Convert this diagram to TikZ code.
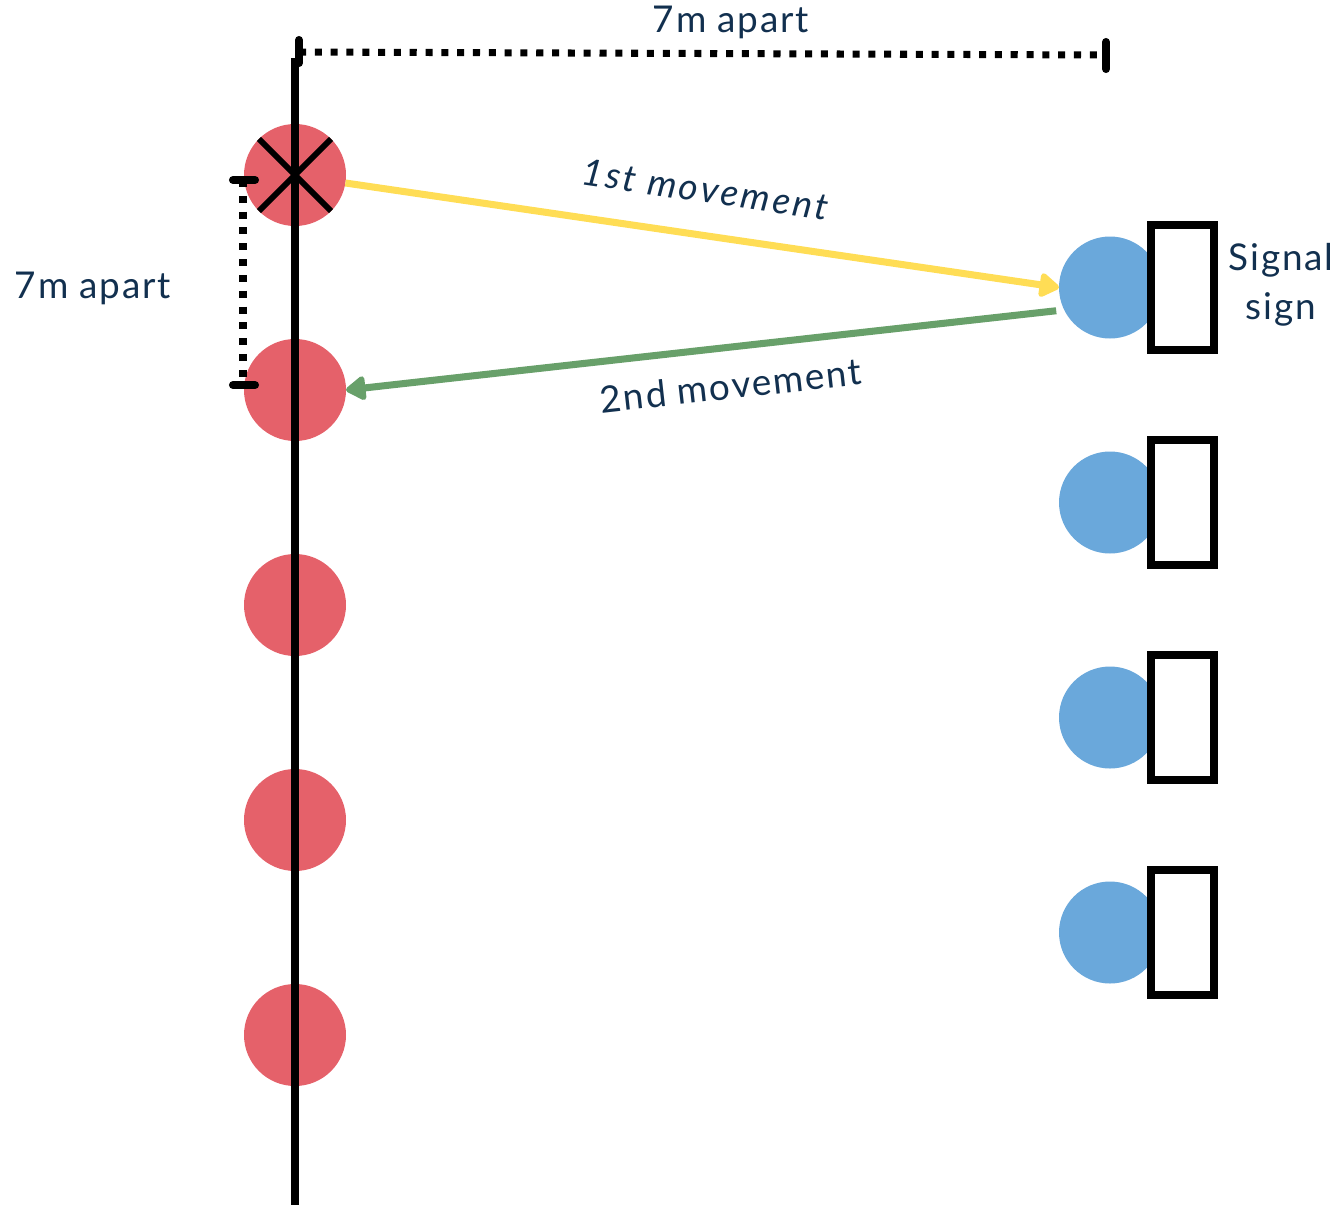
\documentclass[tikz,border=0pt]{standalone}
\usepackage{fontspec}
\setmainfont{Lato}[LetterSpace=5]
\usepackage{xcolor}
\usepackage{tikz}
\usetikzlibrary{arrows.meta,positioning}
\definecolor{conered}{HTML}{E5616A}
\definecolor{coneblue}{HTML}{6AA8DB}
\definecolor{moveyel}{HTML}{FFDD55}
\definecolor{movegrn}{HTML}{68A06A}
\definecolor{navy}{HTML}{12304F}

\begin{document}
\begin{tikzpicture}[
  font=\fontsize{21}{26}\selectfont,
  red cone/.style={circle,fill=conered,minimum size=2.04cm,inner sep=0pt,outer sep=0pt},
  blue cone/.style={circle,fill=coneblue,minimum size=2.04cm,inner sep=0pt,outer sep=0pt},
  signbox/.style={draw=black,fill=white,line width=4.5pt,minimum width=1.26cm,minimum height=2.5cm,inner sep=0pt},
  lbl/.style={text=navy,align=center},
  dimline/.style={line width=4pt,dash pattern=on 4pt off 5pt},
  tick/.style={line width=4.6pt,line cap=round},
  mov/.style={line width=4pt,-{Triangle[length=0.44cm,width=0.54cm,round]}}
]
\useasboundingbox (0,0) rectangle (26.82,-24.1);
% cones on the line
\node[red cone] (r1) at (5.9,-3.5) {};
\node[red cone] (r2) at (5.9,-7.8) {};
\node[red cone] (r3) at (5.9,-12.1) {};
\node[red cone] (r4) at (5.9,-16.4) {};
\node[red cone] (r5) at (5.9,-20.7) {};
% cones at the signs
\node[blue cone] (b1) at (22.2,-5.75) {};
\node[blue cone] (b2) at (22.2,-10.05) {};
\node[blue cone] (b3) at (22.2,-14.35) {};
\node[blue cone] (b4) at (22.2,-18.65) {};
\node[signbox] (s1) at (23.65,-5.75) {};
\node[signbox] (s2) at (23.65,-10.05) {};
\node[signbox] (s3) at (23.65,-14.35) {};
\node[signbox] (s4) at (23.65,-18.65) {};
\node[lbl,font=\fontsize{21}{28}\selectfont] (signlbl) at (25.62,-5.7) {Signal\\sign};
% start line
\coordinate (axtop) at (5.9,-1.16);
\coordinate (axbot) at (5.9,-24.1);
\draw[line width=4.6pt] (axtop) -- (axbot);
\draw[line width=3.4pt] (r1.north west) -- (r1.south east);
\draw[line width=3.4pt] (r1.north east) -- (r1.south west);
% movements
\draw[mov,moveyel] (r1.-9) -- (b1.west)
  node[lbl,pos=0.495,sloped,above=0.46cm,font=\fontsize{21}{26}\selectfont\itshape\addfontfeatures{LetterSpace=8}] (mv1) {1st movement};
\draw[movegrn,line width=4pt,{Triangle[length=0.44cm,width=0.54cm,round]}-,shorten >=0.16cm] (r2.east) -- (b1.206)
  node[lbl,pos=0.53,sloped,below=0.3cm] (mv2) {2nd movement};
% distances
\coordinate (dtl) at (5.98,-1.04);
\coordinate (dtr) at (22.12,-1.1);
\draw[dimline] (dtl) -- (dtr);
\draw[tick] (5.98,-0.8) -- (5.98,-1.26);
\draw[tick] (22.12,-0.84) -- (22.12,-1.38);
\node[lbl] (toplbl) at (14.62,-0.44) {7m apart};
\coordinate (dlt) at (4.86,-3.6);
\coordinate (dlb) at (4.86,-7.7);
\draw[dimline] (dlt) -- (dlb);
\draw[tick] (4.66,-3.6) -- (5.1,-3.6);
\draw[tick] (4.66,-7.7) -- (5.1,-7.7);
\node[lbl] (leftlbl) at (1.86,-5.76) {7m apart};
\end{tikzpicture}
\end{document}
